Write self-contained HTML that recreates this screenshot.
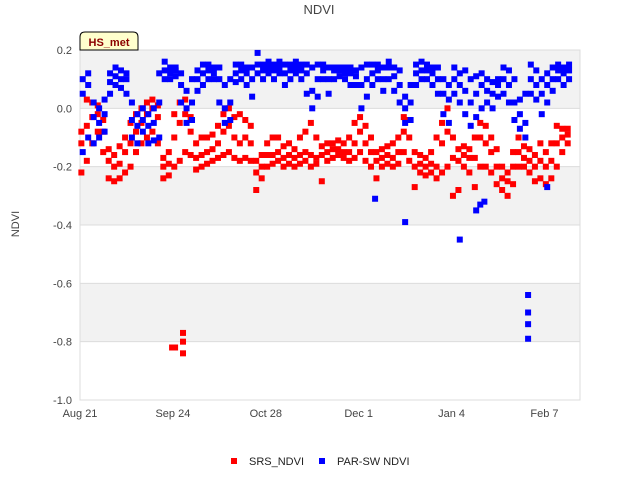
<!DOCTYPE html>
<html><head><meta charset="utf-8"><style>
body{margin:0;background:#fff;font-family:"Liberation Sans",sans-serif;}
svg text{font-family:"Liberation Sans",sans-serif;}
</style></head><body>
<svg id="chart" width="640" height="480" xmlns="http://www.w3.org/2000/svg">
<rect x="0" y="0" width="640" height="480" fill="#fff"/>
<text x="319" y="14" text-anchor="middle" font-size="13" fill="#444">NDVI</text>
<g id="bands"></g>
<g id="axes"></g>
<g id="marks"></g>
<g>
<path d="M80,50 L80,37 Q80,32 85,32 L133,32 Q138,32 138,37 L138,50 Z" fill="#ffffcc" stroke="#000" stroke-width="1"/>
<text x="109" y="46" text-anchor="middle" font-size="11" font-weight="bold" fill="#8b0000">HS_met</text>
</g>
<text transform="translate(19,224) rotate(-90)" text-anchor="middle" font-size="11" fill="#444">NDVI</text>
<g>
<rect x="231" y="458" width="6" height="6" fill="#f00"/>
<text x="249" y="465" font-size="11" fill="#222">SRS_NDVI</text>
<rect x="319" y="458" width="6" height="6" fill="#00f"/>
<text x="337" y="465" font-size="11" fill="#222">PAR-SW NDVI</text>
</g>
</svg>
<script>
const yTicks=[0.2,0,-0.2,-0.4,-0.6,-0.8,-1.0];
const yTickLabels=["0.2","0.0","-0.2","-0.4","-0.6","-0.8","-1.0"];
const xTickDays=[0,34,68,102,136,170];
const xTickLabels=["Aug 21","Sep 24","Oct 28","Dec 1","Jan 4","Feb 7"];
const stepDays=2;
const srsLo=[-0.22,-0.18,-0.12,-0.08,-0.15,-0.24,-0.25,-0.24,-0.22,-0.2,-0.15,-0.12,-0.1,-0.08,-0.12,-0.24,-0.23,-0.2,-0.18,-0.15,-0.16,-0.21,-0.2,-0.19,-0.18,-0.17,-0.16,-0.15,-0.17,-0.18,-0.17,-0.18,-0.28,-0.24,-0.2,-0.19,-0.18,-0.2,-0.19,-0.2,-0.19,-0.18,-0.2,-0.19,-0.25,-0.18,-0.17,-0.16,-0.17,-0.18,-0.17,-0.15,-0.18,-0.2,-0.24,-0.2,-0.19,-0.2,-0.19,-0.15,-0.18,-0.27,-0.22,-0.23,-0.22,-0.24,-0.22,-0.2,-0.3,-0.28,-0.2,-0.22,-0.27,-0.2,-0.2,-0.22,-0.26,-0.28,-0.3,-0.26,-0.2,-0.2,-0.22,-0.25,-0.24,-0.26,-0.24,-0.2,-0.15,-0.12];
const srsMid=[-0.12,-0.06,-0.03,-0.02,-0.08,-0.18,-0.2,-0.19,-0.15,-0.12,-0.08,-0.05,-0.02,0.0,-0.03,-0.2,-0.19,-0.1,-0.05,-0.02,-0.08,-0.17,-0.16,-0.15,-0.14,-0.12,-0.08,-0.06,-0.1,-0.12,-0.1,-0.12,-0.22,-0.2,-0.16,-0.16,-0.15,-0.17,-0.16,-0.17,-0.16,-0.15,-0.16,-0.17,-0.16,-0.15,-0.14,-0.14,-0.15,-0.15,-0.12,-0.08,-0.12,-0.15,-0.18,-0.17,-0.16,-0.17,-0.15,-0.08,-0.1,-0.2,-0.19,-0.2,-0.19,-0.2,-0.12,-0.08,-0.17,-0.18,-0.16,-0.17,-0.17,-0.1,-0.12,-0.15,-0.2,-0.24,-0.25,-0.2,-0.15,-0.17,-0.18,-0.2,-0.18,-0.2,-0.18,-0.12,-0.1,-0.09];
const srsHi=[-0.08,0.03,0.02,0.01,-0.04,-0.14,-0.16,-0.13,-0.1,-0.05,-0.02,0.0,0.02,0.03,0.01,-0.17,-0.15,-0.02,0.02,0.03,-0.03,-0.12,-0.1,-0.1,-0.09,-0.06,-0.02,0.0,-0.03,-0.02,-0.04,-0.06,-0.18,-0.16,-0.12,-0.1,-0.1,-0.13,-0.12,-0.14,-0.1,-0.08,-0.05,-0.1,-0.13,-0.12,-0.12,-0.11,-0.12,-0.1,-0.05,-0.03,-0.06,-0.1,-0.15,-0.14,-0.13,-0.12,-0.1,-0.03,-0.04,-0.15,-0.16,-0.17,-0.15,-0.1,-0.05,0.0,-0.1,-0.14,-0.13,-0.14,-0.1,-0.05,-0.06,-0.1,-0.14,-0.2,-0.22,-0.15,-0.1,-0.13,-0.14,-0.16,-0.12,-0.15,-0.12,-0.06,-0.07,-0.07];
const parLo=[-0.15,-0.1,-0.12,-0.1,-0.08,0.05,0.08,0.07,0.05,-0.1,-0.12,-0.08,-0.12,-0.11,-0.1,0.1,0.1,0.11,0.02,-0.05,-0.04,0.06,0.08,0.1,0.1,0.02,-0.05,-0.04,0.09,0.1,0.08,0.04,0.12,0.1,0.12,0.1,0.12,0.08,0.1,0.12,0.1,0.05,0.0,0.04,0.1,0.05,0.1,0.11,0.1,0.08,0.08,0.0,0.04,0.08,0.1,0.06,0.1,0.06,0.02,-0.05,-0.04,0.08,0.1,0.1,0.08,0.05,-0.02,-0.05,0.05,0.02,-0.02,-0.06,-0.03,0.0,0.02,0.0,0.04,0.05,0.02,-0.04,-0.07,-0.1,0.05,0.03,-0.02,0.02,0.06,0.1,0.08,0.1];
const parMid=[0.05,0.08,-0.03,-0.05,-0.02,0.09,0.11,0.1,0.1,-0.04,-0.06,-0.04,-0.06,-0.05,0.02,0.13,0.12,0.13,0.08,0.0,0.02,0.1,0.12,0.13,0.12,0.1,0.0,0.02,0.12,0.13,0.12,0.1,0.15,0.13,0.14,0.13,0.14,0.12,0.13,0.14,0.13,0.12,0.06,0.1,0.13,0.1,0.13,0.13,0.12,0.12,0.11,0.08,0.1,0.12,0.13,0.1,0.14,0.11,0.08,0.0,0.02,0.12,0.13,0.13,0.12,0.1,0.05,0.03,0.1,0.08,0.06,0.02,0.05,0.08,0.06,0.05,0.08,0.1,0.08,0.02,-0.02,-0.05,0.1,0.08,0.05,0.08,0.1,0.13,0.12,0.13];
const parHi=[0.1,0.12,0.02,0.0,0.03,0.12,0.14,0.13,0.12,0.02,-0.02,0.0,-0.02,0.0,0.12,0.16,0.14,0.14,0.12,0.06,0.1,0.13,0.15,0.15,0.14,0.14,0.08,0.1,0.15,0.15,0.14,0.14,0.19,0.15,0.16,0.15,0.16,0.15,0.15,0.16,0.15,0.15,0.14,0.15,0.15,0.14,0.14,0.14,0.14,0.14,0.13,0.14,0.15,0.15,0.15,0.14,0.16,0.14,0.13,0.04,0.08,0.15,0.16,0.15,0.14,0.14,0.1,0.08,0.14,0.12,0.13,0.1,0.11,0.12,0.1,0.09,0.1,0.14,0.13,0.1,0.03,0.05,0.15,0.13,0.1,0.12,0.14,0.15,0.14,0.15];
const srsOutDays=[33.7,34.8,37.7,37.7,37.7];
const srsOutVals=[-0.82,-0.82,-0.77,-0.8,-0.84];
const parOutDays=[108,119,139,145,146.5,148,164,164,164,164,171];
const parOutVals=[-0.31,-0.39,-0.45,-0.35,-0.33,-0.32,-0.64,-0.7,-0.74,-0.79,-0.27];

const NS="http://www.w3.org/2000/svg";
const X0=80,X1=580,Y0=50,Y1=400;
function xScale(d){return X0+d*(X1-X0)/183;}
function yScale(v){return Y0+(0.2-v)*(Y1-Y0)/1.2;}
function mk(tag,attrs,parent){const e=document.createElementNS(NS,tag);for(const k in attrs)e.setAttribute(k,attrs[k]);parent.appendChild(e);return e;}
const bands=document.getElementById('bands');
for(let i=0;i<yTicks.length-1;i++){
  const r=mk('rect',{x:X0,y:yScale(yTicks[i]),width:X1-X0,height:yScale(yTicks[i+1])-yScale(yTicks[i]),fill:i%2===0?'#f2f2f2':'#ffffff'},bands);
  
  
}
const axes=document.getElementById('axes');
yTicks.forEach((t,i)=>{
  const l=mk('line',{x1:X0,x2:X1,y1:yScale(t),y2:yScale(t),stroke:'#dcdcdc','stroke-width':1},axes);
  
  
  const tx=mk('text',{x:72,y:yScale(t)+4,'text-anchor':'end','font-size':11,fill:'#444'},axes);
  tx.textContent=yTickLabels[i];
  
  
});
const frame=mk('rect',{x:X0,y:Y0,width:X1-X0,height:Y1-Y0,fill:'none',stroke:'#dcdcdc'},axes);


xTickDays.forEach((d,i)=>{
  const tx=mk('text',{x:xScale(d),y:417,'text-anchor':'middle','font-size':11,fill:'#444'},axes);
  tx.textContent=xTickLabels[i];
  
  
});
const marks=document.getElementById('marks');
function pt(d,v,color,name){
  const r=mk('rect',{x:xScale(d)-3,y:yScale(v)-3,width:6,height:6,fill:color},marks);
  
  
}
[srsLo,srsMid,srsHi].forEach(arr=>arr.forEach((v,i)=>pt(i*stepDays+0.5,v,'#ff0000','srs-point')));
srsOutDays.forEach((d,i)=>pt(d,srsOutVals[i],'#ff0000','srs-point'));
[parLo,parMid,parHi].forEach(arr=>arr.forEach((v,i)=>pt(i*stepDays+1,v,'#0000ff','par-point')));
parOutDays.forEach((d,i)=>pt(d,parOutVals[i],'#0000ff','par-point'));
</script>
</body></html>
